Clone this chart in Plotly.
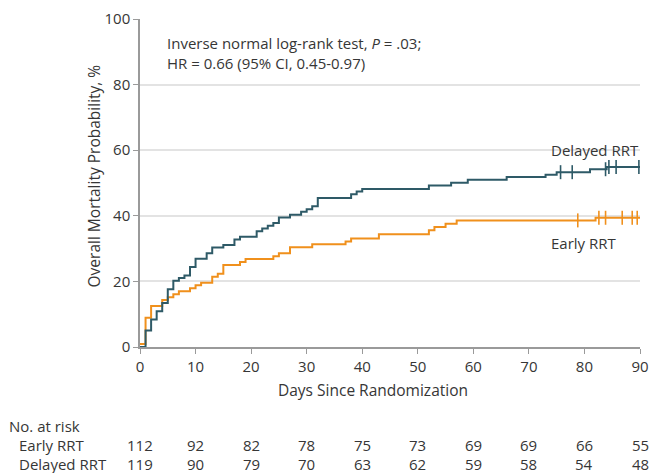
import plotly.graph_objects as go

# Kaplan-Meier step data (day, cumulative mortality %)
early_days = [0, 1, 2, 4, 5, 6, 7, 9, 10, 11, 13, 14, 15, 18, 19, 24, 25, 27, 31, 37, 38, 43, 52, 53, 55, 57, 82, 90]
early_pct = [0.9, 8.9, 12.5, 14.3, 15.2, 16.1, 17.0, 17.9, 18.8, 19.6, 21.4, 22.3, 25.0, 25.9, 26.8, 27.7, 28.6, 30.4, 31.3, 32.2, 33.1, 34.4, 35.6, 36.6, 37.6, 38.6, 39.4, 39.4]

delayed_days = [0, 1, 2, 3, 4, 5, 6, 7, 8, 9, 10, 12, 13, 15, 17, 18, 21, 22, 23, 24, 25, 27, 29, 30, 31, 32, 38, 39, 40, 52, 56, 59, 66, 73, 75, 81, 84, 90]
delayed_pct = [0, 5.0, 8.4, 10.9, 13.4, 17.6, 20.2, 21.0, 21.8, 24.4, 26.9, 28.6, 30.3, 31.1, 32.8, 33.6, 35.3, 36.1, 37.0, 37.8, 39.5, 40.3, 41.2, 42.0, 42.9, 45.4, 46.6, 47.4, 48.2, 49.2, 50.1, 51.0, 51.8, 52.5, 53.3, 54.2, 54.9, 54.9]

early_censor_days = [78.8, 82.6, 83.8, 86.8, 88.6, 89.5]
delayed_censor_days = [75.7, 77.8, 83.8, 84.4, 85.7, 89.8]

risk_days = [0, 10, 20, 30, 40, 50, 60, 70, 80, 90]
early_at_risk = [112, 92, 82, 78, 75, 73, 69, 69, 66, 55]
delayed_at_risk = [119, 90, 79, 70, 63, 62, 59, 58, 54, 48]

ORANGE = "#F0901C"
BLUE = "#2E5A67"
TEXT = "#363636"
FONT = "Open Sans"
FS = 15


def step_value(days, pct, d):
    v = pct[0]
    for t, p in zip(days, pct):
        if t <= d:
            v = p
    return v


fig = go.Figure()
fig.add_trace(go.Scatter(x=early_days, y=early_pct, mode="lines", line=dict(color=ORANGE, width=2, shape="hv"),
                         name="Early RRT", hoverinfo="skip"))
fig.add_trace(go.Scatter(x=delayed_days, y=delayed_pct, mode="lines", line=dict(color=BLUE, width=2, shape="hv"),
                         name="Delayed RRT", hoverinfo="skip"))
fig.add_trace(go.Scatter(x=early_censor_days, y=[step_value(early_days, early_pct, d) for d in early_censor_days],
                         mode="markers", marker=dict(symbol="line-ns", size=10, line=dict(color=ORANGE, width=1.6)),
                         hoverinfo="skip", cliponaxis=False))
fig.add_trace(go.Scatter(x=delayed_censor_days, y=[step_value(delayed_days, delayed_pct, d) for d in delayed_censor_days],
                         mode="markers", marker=dict(symbol="line-ns", size=10, line=dict(color=BLUE, width=1.6)),
                         hoverinfo="skip", cliponaxis=False))


def f(size=FS):
    return dict(size=size, color=TEXT, family=FONT)


ann = []
ann.append(dict(x=4.5, y=92.7, xref="x", yref="y", xanchor="left", yanchor="middle", showarrow=False,
                text="Inverse normal log-rank test, <i>P</i> = .03;", font=f()))
ann.append(dict(x=4.5, y=86.6, xref="x", yref="y", xanchor="left", yanchor="middle", showarrow=False,
                text="HR = 0.66 (95% CI, 0.45-0.97)", font=f()))
ann.append(dict(x=73.6, y=60.0, xref="x", yref="y", xanchor="left", yanchor="middle", showarrow=False,
                text="Delayed RRT", font=f()))
ann.append(dict(x=73.6, y=31.7, xref="x", yref="y", xanchor="left", yanchor="middle", showarrow=False,
                text="Early RRT", font=f()))
# axis titles
ann.append(dict(x=0.466, y=0, xref="paper", yref="paper", xanchor="center", yanchor="middle", yshift=-43,
                showarrow=False, text="Days Since Randomization", font=f(15.5)))
ann.append(dict(x=0, y=0.52, xref="paper", yref="paper", xanchor="center", yanchor="middle", xshift=-46,
                textangle=-90, showarrow=False, text="Overall Mortality Probability, %", font=f(15.5)))
# number at risk table
ann.append(dict(x=0, y=0, xref="paper", yref="paper", xanchor="left", yanchor="middle", xshift=-133, yshift=-79,
                showarrow=False, text="No. at risk", font=f()))
ann.append(dict(x=0, y=0, xref="paper", yref="paper", xanchor="left", yanchor="middle", xshift=-123, yshift=-98,
                showarrow=False, text="Early RRT", font=f()))
ann.append(dict(x=0, y=0, xref="paper", yref="paper", xanchor="left", yanchor="middle", xshift=-123, yshift=-117,
                showarrow=False, text="Delayed RRT", font=f()))
for d, e, dl in zip(risk_days, early_at_risk, delayed_at_risk):
    ann.append(dict(x=d, y=0, xref="x", yref="paper", xanchor="center", yanchor="middle", yshift=-98,
                    showarrow=False, text=str(e), font=f()))
    ann.append(dict(x=d, y=0, xref="x", yref="paper", xanchor="center", yanchor="middle", yshift=-117,
                    showarrow=False, text=str(dl), font=f()))

fig.update_layout(
    width=651, height=473,
    margin=dict(l=140, r=11, t=19, b=126, autoexpand=False),
    paper_bgcolor="white", plot_bgcolor="white",
    showlegend=False,
    font=f(),
    annotations=ann,
    xaxis=dict(range=[0, 90], tickmode="array", tickvals=risk_days, ticks="outside", ticklen=5,
               tickcolor="#9a9a9a", showline=True, linecolor="#9a9a9a", linewidth=1.5, showgrid=False,
               zeroline=False, tickfont=f(), automargin=False),
    yaxis=dict(range=[0, 100], tickmode="array", tickvals=[0, 20, 40, 60, 80, 100], ticks="outside", ticklen=5,
               tickcolor="#9a9a9a", showline=True, linecolor="#9a9a9a", linewidth=1.5, showgrid=True,
               gridcolor="#e3e3e3", gridwidth=1.5, zeroline=False, tickfont=f(), automargin=False),
)

fig.write_html("out.html", config={"displayModeBar": False},
               post_script="document.body.style.margin='0';document.body.style.overflow='hidden';")
